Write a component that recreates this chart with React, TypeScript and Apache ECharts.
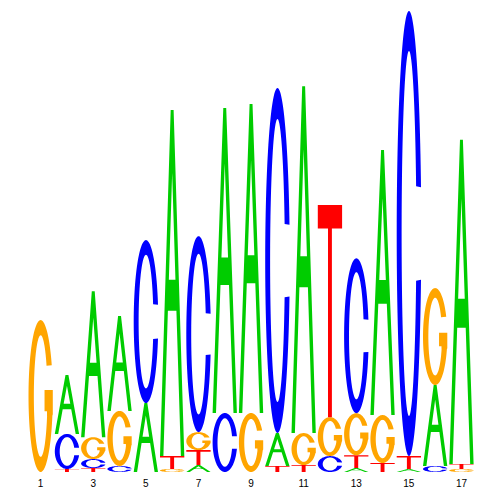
import React, { useEffect, useRef } from "react";
import * as echarts from "echarts";

// Sequence logo: letter heights (bits) per position
const positions = ["1", "2", "3", "4", "5", "6", "7", "8", "9", "10", "11", "12", "13", "14", "15", "16", "17"];
const heightA = [0, 0.256, 0.633, 0.412, 0.299, 1.501, 0.030, 1.323, 1.341, 0.143, 1.505, 0, 0.017, 1.150, 0.013, 0.351, 1.406];
const heightC = [0, 0.152, 0.039, 0.026, 0.707, 0, 0.850, 0.256, 0, 1.497, 0, 0.069, 0.672, 0, 1.931, 0.026, 0];
const heightG = [0.659, 0, 0.095, 0.239, 0, 0.013, 0.078, 0, 0.256, 0, 0.139, 0.169, 0.182, 0.208, 0, 0.421, 0.013];
const heightT = [0, 0.013, 0.017, 0, 0, 0.056, 0.065, 0, 0, 0.026, 0.030, 0.920, 0.056, 0.039, 0.056, 0, 0.022];

const COLORS: Record<string, string> = { A: "#00CC00", C: "#0000FF", G: "#FFA500", T: "#FF0000" };

function arcPts(cx: number, cy: number, rx: number, ry: number, t0: number, t1: number, step: number) {
  const pts: [number, number][] = [];
  const n = Math.max(1, Math.round(Math.abs(t1 - t0) / step));
  for (let k = 0; k <= n; k++) {
    const t = ((t0 + ((t1 - t0) * k) / n) * Math.PI) / 180;
    pts.push([cx + rx * Math.cos(t), cy - ry * Math.sin(t)]);
  }
  return pts;
}
function ptsToD(pts: [number, number][], start: boolean) {
  return pts.map((p, i) => (i === 0 && start ? "M" : "L") + p[0].toFixed(2) + "," + p[1].toFixed(2)).join(" ");
}

const PATH_A = "M0,100 L44,0 L56,0 L100,100 L86,100 L67.5,58 L32.5,58 L14,100 Z M50,18.2 L36.4,49 L63.6,49 Z";
const PATH_T = "M0,0 L100,0 L100,11 L58,11 L58,100 L42,100 L42,11 L0,11 Z";
const PATH_C = (() => {
  const outer = arcPts(50, 50, 50, 50, 12, 348, 3);
  const inner = arcPts(50, 50, 30, 41, 345, 15, 3);
  return ptsToD(outer, true) + " " + ptsToD(inner, false) + " Z";
})();
const PATH_G = (() => {
  const outer = arcPts(50, 50, 50, 50, 24, 345, 3);
  const inner = arcPts(50, 50, 28, 40, 340, 30, 3);
  return (
    ptsToD(outer, true) +
    " L100,62 L100,46 L66,46 L66,60 L76,60 " +
    ptsToD(inner, false) +
    " Z"
  );
})();
const PATHS: Record<string, string> = { A: PATH_A, C: PATH_C, G: PATH_G, T: PATH_T };

export default function App() {
  const ref = useRef<HTMLDivElement>(null);
  useEffect(() => {
    if (!ref.current) return;
    const chart = echarts.init(ref.current, null, { renderer: "svg" });
    const data = positions.map((_, i) => [i, heightA[i], heightC[i], heightG[i], heightT[i]]);
    chart.setOption({
      animation: false,
      backgroundColor: "#ffffff",
      grid: { left: 27.5, right: 25.4, top: 11, bottom: 28 },
      xAxis: {
        type: "category",
        data: positions,
        axisLine: { show: false },
        axisTick: { show: false },
        axisLabel: {
          interval: 1,
          fontSize: 10,
          color: "#000",
          margin: 6,
          fontFamily: "Liberation Sans, Arial, sans-serif",
        },
        splitLine: { show: false },
      },
      yAxis: { type: "value", min: 0, max: 2, show: false, splitLine: { show: false } },
      series: [
        {
          type: "custom",
          data,
          encode: { x: 0, y: 1 },
          renderItem: (_params: any, api: any) => {
            const idx = api.value(0);
            const letters: [string, number][] = [
              ["A", api.value(1)],
              ["C", api.value(2)],
              ["G", api.value(3)],
              ["T", api.value(4)],
            ];
            const stack = letters.filter((l) => l[1] > 0).sort((a, b) => a[1] - b[1]);
            const center = api.coord([idx, 0]);
            const band = api.size([1, 0])[0];
            let base = 0;
            const children = stack.map(([L, h]) => {
              const bottom = api.coord([idx, base])[1];
              const top = api.coord([idx, base + h])[1];
              base += h;
              return {
                type: "path",
                shape: {
                  pathData: PATHS[L],
                  layout: "cover",
                  x: center[0] - band / 2 + 1,
                  y: top,
                  width: band - 2,
                  height: Math.max(0.5, bottom - top),
                },
                style: { fill: COLORS[L], stroke: null },
              };
            });
            return { type: "group", children };
          },
        },
      ],
    });
    return () => chart.dispose();
  }, []);
  return (
    <div
      ref={ref}
      style={{ position: "absolute", left: 0, top: 0, width: 500, height: 500, background: "#fff" }}
    />
  );
}
